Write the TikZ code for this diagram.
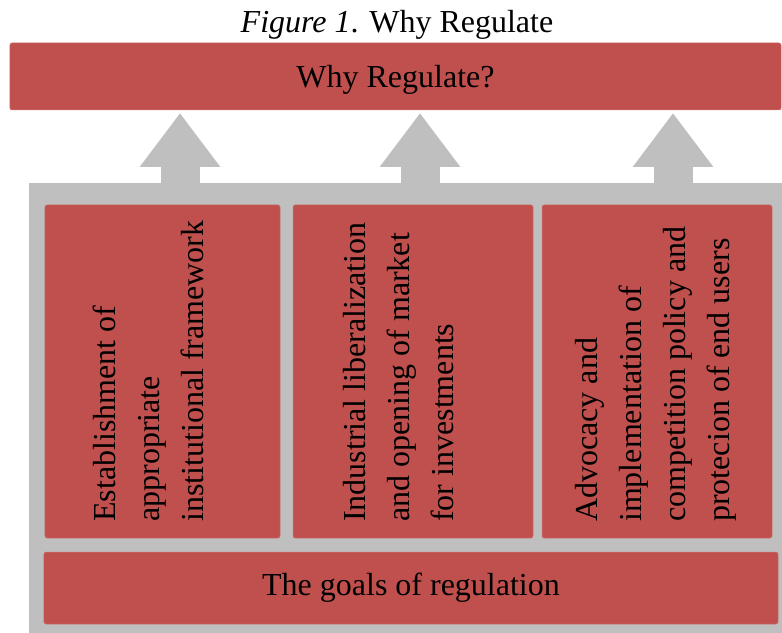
\documentclass[tikz,border=0pt]{standalone}
\usepackage{fontspec}
\setmainfont{Liberation Serif}
\usepackage{xcolor}
\usetikzlibrary{calc,positioning,arrows.meta}
\definecolor{goalred}{HTML}{C0504D}
\definecolor{panelgrey}{HTML}{BFBFBF}
\tikzset{
  redbox/.style={fill=goalred, draw=goalred!80!white, line width=0.5bp, rounded corners=2bp, inner sep=0pt},
  goaltext/.style={rotate=90, anchor=north west, align=left, inner sep=0pt},
  upblock/.style={draw=panelgrey, line width=39bp, -{Triangle[width=77bp,length=54bp]}},
}

\begin{document}
\begin{tikzpicture}[x=1bp,y=-1bp,font=\fontsize{32bp}{44bp}\selectfont]
        \useasboundingbox (0,0) rectangle (782,633);
        \node[anchor=base] (title) at (397,33) {\textit{Figure 1}. Why Regulate};
        \node[redbox, text depth=0pt, minimum width=771bp, minimum height=67bp] (why) at (395.5,76.5) {Why Regulate?};
        \node[fill=panelgrey, inner sep=0pt, minimum width=753bp, minimum height=450bp] (panel) at (405.5,408) {};
        % three goals standing on the base bar
        \node[redbox, minimum width=235bp, minimum height=333bp] (frame) at (162.5,371.5) {};
        \node[redbox, minimum width=240bp, minimum height=333bp] (market) at (413,371.5) {};
        \node[redbox, minimum width=230bp, minimum height=333bp] (compet) at (657,371.5) {};
        \node[goaltext] (frametxt) at (93,522) {Establishment of\\appropriate\\institutional framework};
        \node[goaltext] (markettxt) at (343,522) {Industrial liberalization\\and opening of market\\for investments};
        \node[goaltext] (compettxt) at (575,522) {Advocacy and\\implementation of\\competition policy and\\protecion of end users};
        \node[redbox, minimum width=734bp, minimum height=72bp] (goals) at (411,588) {The goals of regulation};
        % block arrows up to the question
        \coordinate (tip1) at (180,113);
        \coordinate (tip2) at (420,113);
        \coordinate (tip3) at (673,113);
        \draw[upblock] (panel.north -| tip1) -- (tip1);
        \draw[upblock] (panel.north -| tip2) -- (tip2);
        \draw[upblock] (panel.north -| tip3) -- (tip3);
    \end{tikzpicture}
\end{document}
